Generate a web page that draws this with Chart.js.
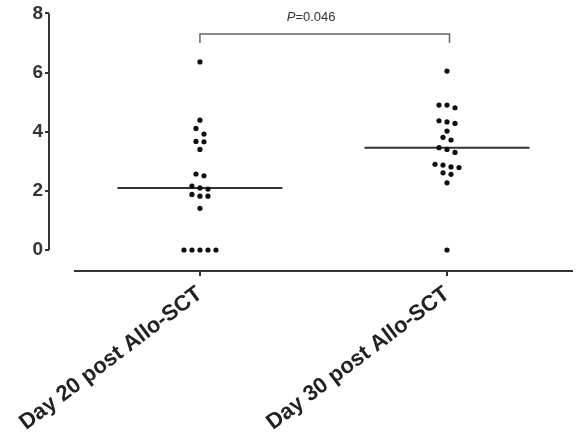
<!DOCTYPE html>
<html>
<head>
<meta charset="utf-8">
<script src="https://cdn.jsdelivr.net/npm/chart.js@4.4.1/dist/chart.umd.min.js"></script>
<style>
    html, body { margin: 0; padding: 0; background: #fff; }
</style>
</head>
<body>
<canvas id="dotChart" width="587" height="441"></canvas>
<script>
// groups on the x axis
var groupLabels = ['Day 20 post Allo-SCT', 'Day 30 post Allo-SCT'];
// one value per patient in each group
var day20Values = [6.36, 4.39, 4.11, 3.92, 3.67, 3.66, 3.40, 2.57, 2.51, 2.16, 2.10, 2.06, 1.88, 1.82, 1.82, 1.41, 0, 0, 0, 0, 0];
var day30Values = [6.05, 4.90, 4.90, 4.81, 4.37, 4.33, 4.28, 4.02, 3.81, 3.72, 3.46, 3.40, 3.30, 2.90, 2.87, 2.81, 2.79, 2.61, 2.56, 2.27, 0];
var yTicks = [0, 2, 4, 6, 8];
var pValueLabel = ['P', '=0.046'];

var FONT = "'Liberation Sans', Arial, sans-serif";
var ROW_GAP = 0.2;      // values closer than this share a row
var DOT_STEP = 0.0324;  // horizontal step between dots in a row (x units)
var MEDIAN_HALF = 0.334;

function median(values) {
    var s = values.slice().sort(function (a, b) { return a - b; });
    var m = Math.floor(s.length / 2);
    return s.length % 2 ? s[m] : (s[m - 1] + s[m]) / 2;
}

// spread close values side by side around the group centre
function swarm(values, center) {
    var sorted = values.slice().sort(function (a, b) { return b - a; });
    var points = [];
    var i = 0;
    while (i < sorted.length) {
        var row = [sorted[i]];
        var j = i + 1;
        while (j < sorted.length && sorted[i] - sorted[j] <= ROW_GAP) {
            row.push(sorted[j]);
            j++;
        }
        row.forEach(function (v, k) {
            points.push({ x: center + (k - (row.length - 1) / 2) * DOT_STEP, y: v });
        });
        i = j;
    }
    return points;
}

function medianLine(values, center) {
    var m = median(values);
    return [{ x: center - MEDIAN_HALF, y: m }, { x: center + MEDIAN_HALF, y: m }];
}

// axis lines (Prism style, detached) and the significance bracket
var extrasPlugin = {
    id: 'extras',
    afterDraw: function (chart) {
        var ctx = chart.ctx;
        var x = chart.scales.x;
        var y = chart.scales.y;
        var area = chart.chartArea;
        ctx.save();
        ctx.strokeStyle = '#333';
        ctx.lineWidth = 2;
        // y axis, 0 to 8 only
        ctx.beginPath();
        ctx.moveTo(area.left, y.getPixelForValue(yTicks[0]));
        ctx.lineTo(area.left, y.getPixelForValue(yTicks[yTicks.length - 1]));
        ctx.stroke();
        // x axis
        ctx.beginPath();
        ctx.moveTo(x.getPixelForValue(0.49), area.bottom);
        ctx.lineTo(area.right, area.bottom);
        ctx.stroke();

        // bracket between the two groups
        var top = y.getPixelForValue(7.3);
        var foot = y.getPixelForValue(7.0);
        var x1 = x.getPixelForValue(1);
        var x2 = x.getPixelForValue(2.01);
        ctx.strokeStyle = '#666';
        ctx.lineWidth = 1.5;
        ctx.beginPath();
        ctx.moveTo(x1, foot);
        ctx.lineTo(x1, top);
        ctx.lineTo(x2, top);
        ctx.lineTo(x2, foot);
        ctx.stroke();

        // P value text, italic P
        ctx.fillStyle = '#333';
        ctx.textBaseline = 'middle';
        ctx.font = 'italic 13px ' + FONT;
        var w1 = ctx.measureText(pValueLabel[0]).width;
        ctx.font = '13px ' + FONT;
        var w2 = ctx.measureText(pValueLabel[1]).width;
        var tx = x.getPixelForValue(1.45) - (w1 + w2) / 2;
        var ty = y.getPixelForValue(7.86);
        ctx.textAlign = 'left';
        ctx.font = 'italic 13px ' + FONT;
        ctx.fillText(pValueLabel[0], tx, ty);
        ctx.font = '13px ' + FONT;
        ctx.fillText(pValueLabel[1], tx + w1, ty);
        ctx.restore();
    }
};

var ctx = document.getElementById('dotChart').getContext('2d');
var dotChart = new Chart(ctx, {
    type: 'scatter',
    data: {
        datasets: [{
            label: groupLabels[0],
            data: swarm(day20Values, 1),
            backgroundColor: '#111',
            borderWidth: 0,
            pointRadius: 2.6
        }, {
            label: groupLabels[1],
            data: swarm(day30Values, 2),
            backgroundColor: '#111',
            borderWidth: 0,
            pointRadius: 2.6
        }, {
            type: 'line',
            data: medianLine(day20Values, 1),
            borderColor: '#333',
            borderWidth: 2,
            pointRadius: 0,
            fill: false
        }, {
            type: 'line',
            data: medianLine(day30Values, 2),
            borderColor: '#333',
            borderWidth: 2,
            pointRadius: 0,
            fill: false
        }]
    },
    options: {
        responsive: false,
        animation: false,
        layout: { padding: { top: 13, right: 14, bottom: 0, left: 0 } },
        plugins: {
            legend: { display: false },
            tooltip: { enabled: false }
        },
        scales: {
            x: {
                type: 'linear',
                min: 0.389,
                max: 2.51,
                border: { display: false },
                grid: { drawOnChartArea: false, drawTicks: true, tickLength: 5, color: '#333', lineWidth: 2 },
                afterBuildTicks: function (scale) {
                    scale.ticks = [{ value: 1 }, { value: 2 }];
                },
                afterFit: function (scale) {
                    scale.height = 170;
                },
                ticks: {
                    autoSkip: false,
                    minRotation: 37,
                    maxRotation: 37,
                    padding: 5,
                    color: '#222',
                    font: { family: FONT, size: 22, weight: 'bold' },
                    callback: function (value) {
                        return groupLabels[value - 1];
                    }
                }
            },
            y: {
                type: 'linear',
                min: -0.71,
                max: 8,
                border: { display: false },
                grid: { drawOnChartArea: false, drawTicks: true, tickLength: 4, color: '#333', lineWidth: 2 },
                afterBuildTicks: function (scale) {
                    scale.ticks = yTicks.map(function (v) { return { value: v }; });
                },
                afterFit: function (scale) {
                    scale.width = 49;
                },
                ticks: {
                    padding: 2,
                    color: '#333',
                    font: { family: FONT, size: 19, weight: 'bold' }
                }
            }
        }
    },
    plugins: [extrasPlugin]
});
</script>
</body>
</html>
